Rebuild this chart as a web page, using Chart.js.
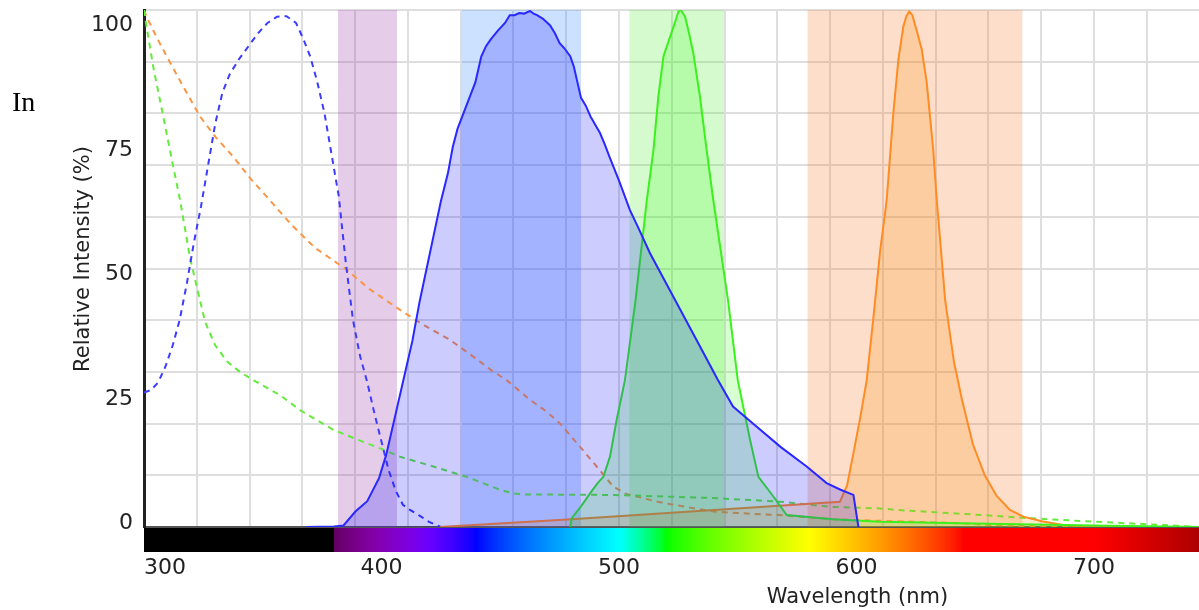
<!DOCTYPE html>
<html>
<head>
<meta charset="utf-8">
<script src="https://cdn.jsdelivr.net/npm/chart.js@4.4.0/dist/chart.umd.min.js"></script>
<style>
  html, body { margin: 0; padding: 0; background: #fff; overflow: hidden; }
  #wrap { position: relative; width: 1199px; height: 610px; }
  #c { position: absolute; left: 0; top: 0; }
  #inTxt { position: absolute; left: 12px; top: 88px; font-family: "Liberation Serif", serif; font-size: 28px; line-height: 28px; color: #000; }
</style>
</head>
<body>
<div id="wrap">
  <canvas id="c" width="1199" height="610"></canvas>
  <div id="inTxt">In</div>
</div>
<script>
// ---------------- data ----------------
const xTickLabels = [300, 400, 500, 600, 700];
const yTickLabels = [0, 25, 50, 75, 100];

// blue dye excitation (dashed)
const blueExWl  = [300, 303, 306, 309, 312, 315, 318, 321, 324, 327, 330, 333, 336, 340, 344, 348, 352, 356, 360, 364, 367, 370, 373, 376, 379, 382, 385, 388, 391, 394, 397, 400, 403, 406, 409, 412, 416, 420, 425];
const blueExVal = [26, 26.5, 28, 31, 35, 40, 47, 55, 62, 70, 78, 84, 87.5, 90.5, 93, 95.5, 97.5, 98.7, 98.8, 97.5, 94.5, 91, 86, 80, 72, 64, 51, 40, 33, 28, 22, 16.5, 11, 7, 4.3, 3.3, 2.2, 1, 0];

// blue dye emission (solid, filled)
const blueEmWl  = [368, 380, 384, 389, 394, 399, 402, 405, 409, 413, 416, 419, 422, 425, 428, 430, 432, 434.5, 437, 439.5, 442, 444, 446, 449, 452, 454, 456, 458, 460, 462.5, 464, 465.5, 468, 471, 473, 475, 477, 479.5, 481, 482.5, 484, 486, 488, 490, 492, 494, 496, 500, 504.6, 508, 513, 520, 527, 534, 541.7, 548, 558, 568, 579, 587.4, 593.3, 598.7, 600.8];
const blueEmVal = [0, 0.1, 0.3, 3, 5, 9.5, 14, 20, 28, 36, 43.5, 50, 56.5, 63, 68.5, 73.5, 77, 80, 83, 86, 91, 93, 94.3, 96, 97.5, 99, 99, 99.4, 99.3, 99.8, 99.3, 99, 98.3, 97, 95.5, 93.6, 92.6, 91, 89, 86, 83, 81.5, 79.4, 77.8, 76.2, 74, 71.6, 67, 61.3, 58, 53, 47, 41, 35, 28.4, 23.3, 19.4, 15.5, 11.7, 8.5, 7.2, 6.2, 0];

// green dye excitation (dashed)
const greenExWl  = [300, 300.4, 303.9, 308.1, 312.3, 315.2, 319.4, 325.7, 329.9, 335, 340.4, 346, 357.3, 365.7, 379.7, 393.8, 399.4, 407.8, 421.8, 435.9, 449.9, 455.5, 460, 497.6, 539.7, 567.8, 588.8, 609.9, 616.9, 653.4, 673, 701, 729, 744];
const greenExVal = [100, 98.7, 89, 79.4, 69.7, 63.2, 52, 39.7, 35.2, 32, 30, 28.4, 25.5, 22.6, 18.8, 16.2, 15.2, 13.6, 11.7, 9.7, 7.2, 6.5, 6.3, 6.2, 5.6, 4.9, 3.9, 3.6, 3.3, 2.3, 1.7, 1, 0.4, 0];

// green dye emission (solid, filled)
const greenEmWl  = [479.4, 480.1, 484, 487.8, 491, 493.4, 496.2, 499, 502.5, 507, 511.7, 514.5, 516.5, 518.7, 521.5, 523.5, 525, 526, 527.8, 529.5, 531.3, 534.1, 536.9, 539.7, 545.9, 550, 555.2, 558.7, 565, 570.6, 590, 610, 650, 700, 744];
const greenEmVal = [0, 1.7, 4, 6.5, 8.5, 9.7, 13.6, 20.7, 28.4, 44, 63.2, 72.9, 83, 91, 94.8, 97.5, 99.7, 100, 98.7, 95.5, 91.6, 83.2, 72.9, 63.2, 43.9, 28.4, 16.8, 9.7, 5.9, 2.3, 1.5, 1.0, 0.7, 0.3, 0];

// orange dye excitation (dashed)
const orangeExWl  = [300, 301.1, 305, 309.6, 316.5, 323.6, 330, 337.6, 345, 353, 362, 372, 384.6, 395, 407.8, 418, 428.8, 440, 446, 452.7, 462.5, 469, 475.2, 483.6, 490.6, 497.6, 503, 507.5, 515, 522.9, 539.7, 553.8, 567.8, 590, 610, 640, 656, 680, 700];
const orangeExVal = [100, 98.7, 95, 91, 85.2, 79.4, 75.5, 71.6, 67.3, 63.2, 58.5, 54, 50, 46, 42, 39, 36.2, 32.5, 30.4, 28.4, 24.6, 22.5, 20, 15.5, 11.7, 7.8, 6.4, 5.9, 5, 4.3, 3, 2.6, 2.3, 1.5, 1.2, 0.8, 0.4, 0.1, 0];

// orange dye emission (solid, filled)
const orangeEmWl  = [424.6, 480, 540, 593, 596, 598.7, 601.5, 604.3, 607, 610, 612.7, 615.5, 617.6, 619.7, 621, 622.2, 623.5, 625.3, 627.5, 629.6, 632.3, 633.8, 637.3, 641, 644.4, 649, 654, 659, 664.6, 670.2, 678, 687, 697, 744];
const orangeEmVal = [0, 1.5, 3.3, 4.9, 8, 14.3, 21, 28.4, 40, 53.6, 63.2, 80, 90.3, 96.8, 98.8, 99.7, 99, 96.1, 92.3, 85.8, 72.9, 63.2, 44, 32, 24.6, 16, 10, 6, 3.3, 2, 1.1, 0.4, 0, 0];

// filter bands [from, to] in nm
const bandViolet = [381.7, 406.5];
const bandBlue   = [433.8, 484.0];
const bandGreen  = [504.3, 544.2];
const bandOrange = [579.3, 669.9];

// ---------------- helpers ----------------
const XMIN = 300, XMAX = 744.2;
function pts(wl, v) { return wl.map((w, i) => ({ x: w, y: v[i] })); }
function band(r) { return [{ x: r[0], y: 100 }, { x: r[1], y: 100 }]; }

function wlColor(w) {
  let r, g, b;
  if (w < 380) return [0, 0, 0];
  if (w < 440) { r = -(w - 440) / 60; g = 0; b = 1; }
  else if (w < 500) { r = 0; g = (w - 440) / 60; b = 1; }
  else if (w < 520) { r = 0; g = 1; b = -(w - 520) / 20; }
  else if (w < 580) { r = (w - 520) / 60; g = 1; b = 0; }
  else if (w < 645) { r = 1; g = -(w - 645) / 65; b = 0; }
  else { r = 1; g = 0; b = 0; }
  let f;
  if (w < 420) f = 0.3 + 0.7 * (w - 380) / 40;
  else if (w <= 700) f = 1;
  else f = 0.3 + 0.7 * (780 - w) / 80;
  return [r, g, b].map(c => c <= 0 ? 0 : Math.round(255 * Math.pow(c * f, 0.8)));
}

const decor = {
  id: 'decor',
  afterDraw(chart) {
    const { ctx, chartArea, scales } = chart;
    const xs = scales.x;
    ctx.save();
    // spectrum bar
    const top = chartArea.bottom + 1, h = 24;
    for (let px = Math.floor(chartArea.left); px < chartArea.right; px++) {
      const w = xs.getValueForPixel(px + 0.5);
      const c = wlColor(w);
      ctx.fillStyle = `rgb(${c[0]},${c[1]},${c[2]})`;
      ctx.fillRect(px, top, 1, h);
    }
    // x tick labels
    ctx.fillStyle = '#222';
    ctx.font = '22px "DejaVu Sans"';
    ctx.textBaseline = 'alphabetic';
    ctx.textAlign = 'left';
    xTickLabels.forEach(v => {
      const t = String(v);
      const w = ctx.measureText(t).width;
      let x = xs.getPixelForValue(v) - w / 2;
      if (x < chartArea.left) x = chartArea.left;
      ctx.fillText(t, x, 574);
    });
    // x title
    ctx.font = '21px "DejaVu Sans"';
    ctx.textAlign = 'center';
    ctx.fillText('Wavelength (nm)', 857.5, 603);
    // y title
    ctx.translate(89, 259);
    ctx.rotate(-Math.PI / 2);
    ctx.fillText('Relative Intensity (%)', 0, 0);
    ctx.restore();
  }
};

const lineBase = { pointRadius: 0, tension: 0, borderWidth: 2, fill: false };
const noPad = s => { s.paddingTop = 0; s.paddingBottom = 0; s.paddingLeft = 0; s.paddingRight = 0; };

new Chart(document.getElementById('c'), {
  type: 'line',
  data: {
    datasets: [
      { label: 'Violet filter', data: band(bandViolet), fill: 'origin', backgroundColor: 'rgba(151,51,167,0.25)', borderWidth: 0, pointRadius: 0, order: 100 },
      { label: 'Blue filter', data: band(bandBlue), fill: 'origin', backgroundColor: 'rgba(51,131,255,0.25)', borderWidth: 0, pointRadius: 0, order: 100 },
      { label: 'Green filter', data: band(bandGreen), fill: 'origin', backgroundColor: 'rgba(83,235,59,0.25)', borderWidth: 0, pointRadius: 0, order: 100 },
      { label: 'Orange filter', data: band(bandOrange), fill: 'origin', backgroundColor: 'rgba(247,123,47,0.25)', borderWidth: 0, pointRadius: 0, order: 100 },

      { ...lineBase, label: 'Orange Ex', data: pts(orangeExWl, orangeExVal), borderColor: 'rgb(250,150,70)', borderDash: [6, 5], order: 50 },
      { ...lineBase, label: 'Green Ex', data: pts(greenExWl, greenExVal), borderColor: 'rgb(100,235,60)', borderDash: [6, 5], order: 49 },
      { ...lineBase, label: 'Blue Ex', data: pts(blueExWl, blueExVal), borderColor: 'rgb(60,60,255)', borderDash: [6, 5], order: 48 },

      { ...lineBase, label: 'Orange Em', data: pts(orangeEmWl, orangeEmVal), borderColor: 'rgb(255,140,35)', fill: 'origin', backgroundColor: 'rgba(255,140,0,0.2)', order: 30 },
      { ...lineBase, label: 'Green Em', data: pts(greenEmWl, greenEmVal), borderColor: 'rgb(60,240,30)', fill: 'origin', backgroundColor: 'rgba(40,255,0,0.18)', order: 29 },
      { ...lineBase, label: 'Blue Em', data: pts(blueEmWl, blueEmVal), borderColor: 'rgb(40,40,255)', fill: 'origin', backgroundColor: 'rgba(0,0,255,0.2)', order: 28 }
    ]
  },
  options: {
    responsive: false,
    animation: false,
    events: [],
    layout: { padding: { top: 10, left: 0, right: 0, bottom: 0 } },
    plugins: { legend: { display: false }, tooltip: { enabled: false } },
    scales: {
      x: {
        type: 'linear', position: 'bottom', min: XMIN, max: XMAX, bounds: 'data',
        afterBuildTicks: s => { const t = []; for (let k = 0; k * 200 / 9 + 300 <= XMAX; k++) t.push({ value: 300 + k * 200 / 9 }); s.ticks = t; },
        afterFit: s => { s.height = 83; noPad(s); },
        ticks: { display: false },
        grid: { color: 'rgb(222,222,222)', lineWidth: 2, drawTicks: false },
        border: { display: true, color: '#555', width: 2 }
      },
      y: {
        type: 'linear', position: 'right', min: 0, max: 100, bounds: 'data',
        afterBuildTicks: s => { const t = []; for (let v = 0; v <= 100; v += 10) t.push({ value: v }); s.ticks = t; },
        afterFit: s => { s.width = 0; noPad(s); },
        ticks: { display: false },
        grid: { color: 'rgb(222,222,222)', lineWidth: 2, drawTicks: false },
        border: { display: false }
      },
      yl: {
        type: 'linear', position: 'left', min: -0.7, max: 103.1, bounds: 'data',
        afterBuildTicks: s => { s.ticks = yTickLabels.map(v => ({ value: v })); },
        afterFit: s => { s.width = 144; noPad(s); },
        ticks: { display: true, padding: 11, color: '#222', font: { family: 'DejaVu Sans', size: 22 } },
        grid: { display: false, drawTicks: false },
        border: { display: true, color: '#222', width: 3 }
      }
    }
  },
  plugins: [decor]
});
</script>
</body>
</html>
